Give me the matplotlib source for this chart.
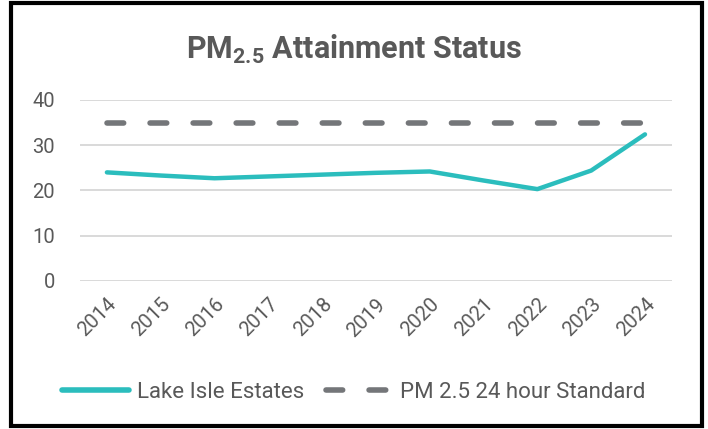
import matplotlib.pyplot as plt
import matplotlib.patches as mpatches
from matplotlib.lines import Line2D

years = ["2014", "2015", "2016", "2017", "2018", "2019", "2020", "2021", "2022", "2023", "2024"]
lake_isle = [24.0, 23.3, 22.7, 23.1, 23.5, 23.9, 24.2, 22.2, 20.3, 24.4, 32.4]
standard = [35, 35, 35, 35, 35, 35, 35, 35, 35, 35, 35]

plt.rcParams['font.family'] = ['Roboto', 'DejaVu Sans']
plt.rcParams['mathtext.fontset'] = 'custom'
plt.rcParams['mathtext.rm'] = 'Roboto'
plt.rcParams['mathtext.bf'] = 'Roboto:bold'
cinza = '#595959'
teal = '#2BBDBD'
cinza_esc = '#747679'
tracejado = (0, (3.0, 4.75))

fig = plt.figure(figsize=(7.08, 4.29), dpi=100)
ax = fig.add_axes([0.113, 0.345, 0.836, 0.422])

x = list(range(len(years)))
ax.plot(x, lake_isle, color=teal, linewidth=3.2, solid_capstyle='round',
        solid_joinstyle='round', zorder=3)
ax.plot(x, standard, color=cinza_esc, linewidth=4, linestyle=tracejado,
        dash_capstyle='round', zorder=3)

ax.set_xlim(-0.5, len(years) - 0.5)
ax.set_ylim(0, 40)
ax.set_yticks([0, 10, 20, 30, 40])
ax.set_xticks(x)
ax.set_xticklabels(years, rotation=45, ha='right', rotation_mode='anchor')
ax.tick_params(axis='both', length=0, labelsize=14.5, labelcolor=cinza)
ax.tick_params(axis='y', pad=18)
ax.tick_params(axis='x', pad=10)
ax.grid(axis='y', color='#D9D9D9', linewidth=1.4)
ax.set_axisbelow(True)
for s in ax.spines.values():
    s.set_visible(False)

fig.text(0.5, 0.885, r"$\mathbf{PM_{2.5}}$ Attainment Status", ha='center', va='center',
         fontsize=22, fontweight='bold', color=cinza)

leg_lake = Line2D([], [], color=teal, linewidth=4, solid_capstyle='round', label='Lake Isle Estates')
leg_std = Line2D([], [], color=cinza_esc, linewidth=4, linestyle=tracejado,
                 dash_capstyle='round', label='PM 2.5 24 hour Standard')
fig.legend(handles=[leg_lake, leg_std], loc='center', bbox_to_anchor=(0.5, 0.085), ncol=2,
           frameon=False, fontsize=16, labelcolor=cinza, handlelength=3.0,
           handletextpad=0.35, columnspacing=1.0)

# moldura preta em volta da figura
fig.patches.append(mpatches.Rectangle((0.016, 0.008), 0.975, 0.984, transform=fig.transFigure,
                                      fill=False, edgecolor='black', linewidth=3))

fig.savefig('out.png', dpi=100)
